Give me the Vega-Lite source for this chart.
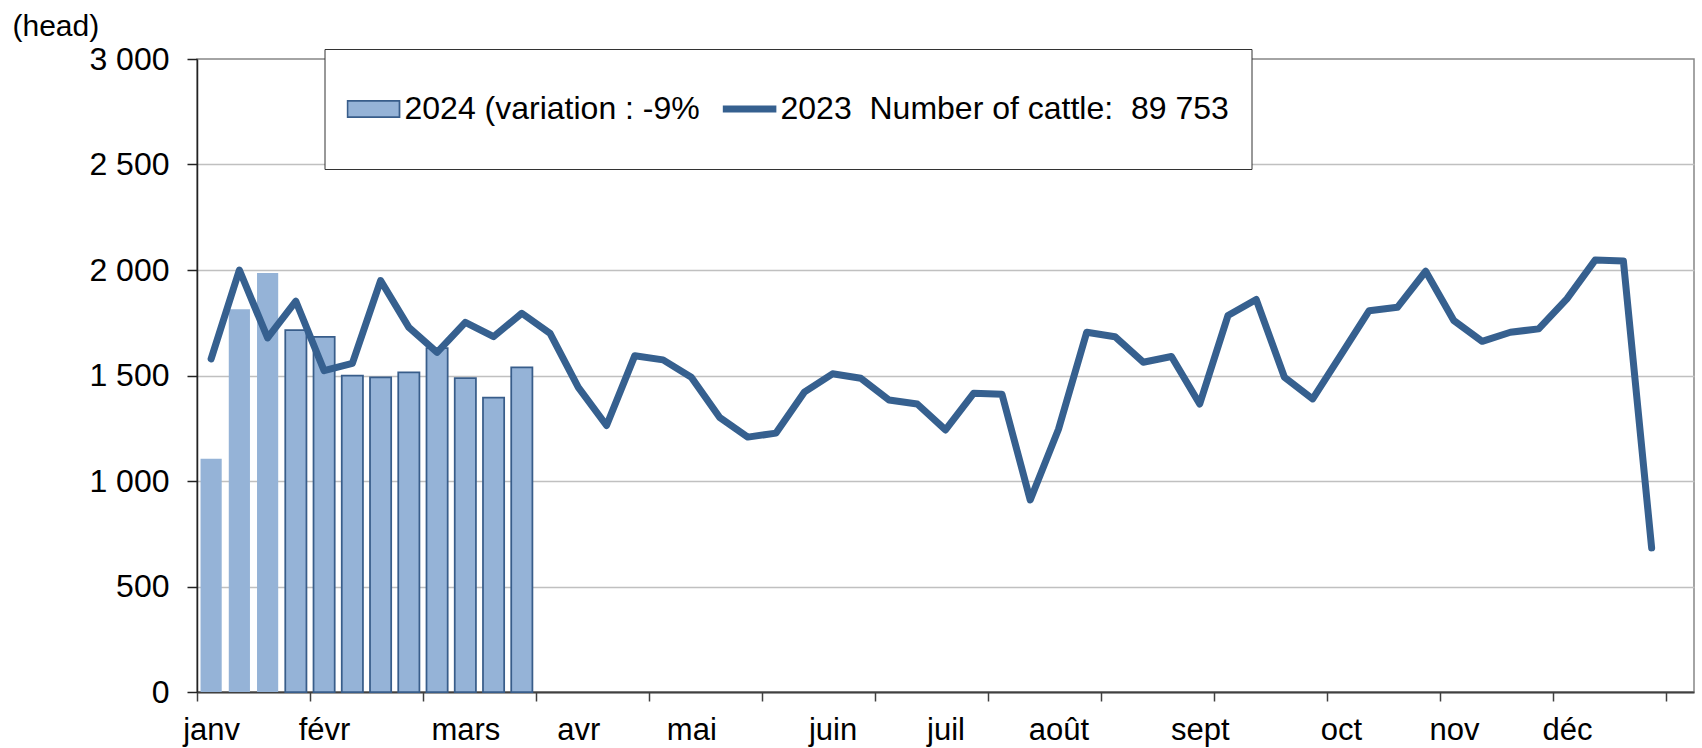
{
  "$schema": "https://vega.github.io/schema/vega-lite/v6.json",
  "width": 1497,
  "height": 633,
  "autosize": {"type": "none"},
  "padding": {"left": 197, "top": 59, "right": 8, "bottom": 56},
  "background": "white",
  "config": {
    "font": "Liberation Sans",
    "view": {"stroke": "#868686", "strokeWidth": 1.5},
    "axis": {"labelFont": "Liberation Sans", "labelFontSize": 30, "labelColor": "#000", "titleFont": "Liberation Sans", "titleColor": "#000"}
  },
  "datasets": {
    "y2024": [
      {"week": 1, "cattle": 1105}, {"week": 2, "cattle": 1814}, {"week": 3, "cattle": 1986},
      {"week": 4, "cattle": 1715}, {"week": 5, "cattle": 1683}, {"week": 6, "cattle": 1500},
      {"week": 7, "cattle": 1491}, {"week": 8, "cattle": 1515}, {"week": 9, "cattle": 1630},
      {"week": 10, "cattle": 1488}, {"week": 11, "cattle": 1395}, {"week": 12, "cattle": 1538}
    ],
    "y2023": [
      {"week": 1, "cattle": 1579}, {"week": 2, "cattle": 2000}, {"week": 3, "cattle": 1678}, {"week": 4, "cattle": 1852},
      {"week": 5, "cattle": 1523}, {"week": 6, "cattle": 1558}, {"week": 7, "cattle": 1950}, {"week": 8, "cattle": 1728},
      {"week": 9, "cattle": 1610}, {"week": 10, "cattle": 1752}, {"week": 11, "cattle": 1684}, {"week": 12, "cattle": 1795},
      {"week": 13, "cattle": 1700}, {"week": 14, "cattle": 1444}, {"week": 15, "cattle": 1263}, {"week": 16, "cattle": 1594},
      {"week": 17, "cattle": 1574}, {"week": 18, "cattle": 1492}, {"week": 19, "cattle": 1302}, {"week": 20, "cattle": 1208},
      {"week": 21, "cattle": 1227}, {"week": 22, "cattle": 1421}, {"week": 23, "cattle": 1508}, {"week": 24, "cattle": 1487},
      {"week": 25, "cattle": 1384}, {"week": 26, "cattle": 1365}, {"week": 27, "cattle": 1242}, {"week": 28, "cattle": 1416},
      {"week": 29, "cattle": 1411}, {"week": 30, "cattle": 910}, {"week": 31, "cattle": 1245}, {"week": 32, "cattle": 1705},
      {"week": 33, "cattle": 1684}, {"week": 34, "cattle": 1563}, {"week": 35, "cattle": 1590}, {"week": 36, "cattle": 1365},
      {"week": 37, "cattle": 1784}, {"week": 38, "cattle": 1860}, {"week": 39, "cattle": 1492}, {"week": 40, "cattle": 1389},
      {"week": 41, "cattle": 1598}, {"week": 42, "cattle": 1807}, {"week": 43, "cattle": 1823}, {"week": 44, "cattle": 1994},
      {"week": 45, "cattle": 1760}, {"week": 46, "cattle": 1662}, {"week": 47, "cattle": 1705}, {"week": 48, "cattle": 1721},
      {"week": 49, "cattle": 1863}, {"week": 50, "cattle": 2047}, {"week": 51, "cattle": 2043}, {"week": 52, "cattle": 683}
    ]
  },
  "layer": [
    {
      "data": {"name": "y2024"},
      "mark": {"type": "bar", "fill": "#95B3D7", "stroke": "#385D8A"},
      "encoding": {
        "x": {
          "field": "week",
          "type": "ordinal",
          "scale": {
            "domain": [1,2,3,4,5,6,7,8,9,10,11,12,13,14,15,16,17,18,19,20,21,22,23,24,25,26,27,28,29,30,31,32,33,34,35,36,37,38,39,40,41,42,43,44,45,46,47,48,49,50,51,52,53],
            "paddingInner": 0.25,
            "paddingOuter": 0.125
          },
          "axis": {
            "title": null,
            "bandPosition": 0.5,
            "labelAngle": 0,
            "labelOverlap": false,
            "labelBound": false,
            "labelFlush": false,
            "labelFontSize": 31,
            "labelExpr": "datum.value == 1 ? 'janv' : datum.value == 5 ? 'févr' : datum.value == 10 ? 'mars' : datum.value == 14 ? 'avr' : datum.value == 18 ? 'mai' : datum.value == 23 ? 'juin' : datum.value == 27 ? 'juil' : datum.value == 31 ? 'août' : datum.value == 36 ? 'sept' : datum.value == 41 ? 'oct' : datum.value == 45 ? 'nov' : datum.value == 49 ? 'déc' : ''",
            "tickOffset": -14.12,
            "labelOffset": 14.12,
            "tickSize": 9,
            "tickWidth": 1.5,
            "tickColor": "#404040",
            "tickOpacity": {"condition": {"test": "(datum.value - 1) % 4 == 0", "value": 1}, "value": 0},
            "labelPadding": 14,
            "domainColor": "#404040",
            "domainWidth": 2
          }
        },
        "y": {
          "field": "cattle",
          "type": "quantitative",
          "scale": {"domain": [0, 3000], "nice": false},
          "axis": {
            "values": [0, 500, 1000, 1500, 2000, 2500, 3000],
            "labelExpr": "replace(format(datum.value, ','), ',', ' ')",
            "labelFontSize": 32,
            "title": "(head)",
            "titleAngle": 0,
            "titleAlign": "left",
            "titleBaseline": "alphabetic",
            "titleX": -185,
            "titleY": -24,
            "titleFontSize": 30,
            "titleFontWeight": "normal",
            "tickSize": 10,
            "tickWidth": 1.5,
            "tickColor": "#222",
            "labelPadding": 18,
            "domainColor": "#222",
            "domainWidth": 1.5,
            "grid": true,
            "gridColor": "#C0C0C0",
            "gridWidth": 1.5,
            "gridOpacity": {"condition": {"test": "datum.value == 3000", "value": 0}, "value": 1}
          }
        },
        "strokeWidth": {"condition": {"test": "datum.week <= 3", "value": 0}, "value": 1.75}
      }
    },
    {
      "data": {"name": "y2023"},
      "mark": {"type": "line", "color": "#36608F", "strokeWidth": 7, "strokeJoin": "round", "strokeCap": "round"},
      "encoding": {
        "x": {"field": "week", "type": "ordinal"},
        "y": {"field": "cattle", "type": "quantitative"}
      }
    },
    {
      "data": {"values": []},
      "mark": {"type": "point", "filled": true},
      "encoding": {
        "color": {
          "field": "series",
          "type": "nominal",
          "scale": {"domain": ["2024 (variation : -9%", "2023\u00a0 Number of cattle:\u00a0 89 753"], "range": ["#95B3D7", "#36608F"]},
          "legend": {"title": null, "orient": "none", "legendX": 127.5, "legendY": -10, "direction": "horizontal", "labelFont": "Liberation Sans", "labelFontSize": 32, "labelColor": "#000", "labelLimit": 2000, "symbolSize": 2704, "symbolStrokeWidth": 1.75, "symbolOpacity": 1, "padding": 22, "columnPadding": 22, "labelOffset": 4, "clipHeight": 76, "fillColor": "white", "strokeColor": "#333"}
        },
        "stroke": {
          "field": "series",
          "type": "nominal",
          "scale": {"domain": ["2024 (variation : -9%", "2023\u00a0 Number of cattle:\u00a0 89 753"], "range": ["#385D8A", "#36608F"]},
          "legend": {"title": null, "orient": "none", "legendX": 127.5, "legendY": -10, "direction": "horizontal", "labelFont": "Liberation Sans", "labelFontSize": 32, "labelColor": "#000", "labelLimit": 2000, "symbolSize": 2704, "symbolStrokeWidth": 1.75, "symbolOpacity": 1, "padding": 22, "columnPadding": 22, "labelOffset": 4, "clipHeight": 76, "fillColor": "white", "strokeColor": "#333"}
        },
        "shape": {
          "field": "series",
          "type": "nominal",
          "scale": {"domain": ["2024 (variation : -9%", "2023\u00a0 Number of cattle:\u00a0 89 753"], "range": ["M-1,-0.31H1V0.31H-1Z", "M-1,-0.1H1V0.1H-1Z"]},
          "legend": {"title": null, "orient": "none", "legendX": 127.5, "legendY": -10, "direction": "horizontal", "labelFont": "Liberation Sans", "labelFontSize": 32, "labelColor": "#000", "labelLimit": 2000, "symbolSize": 2704, "symbolStrokeWidth": 1.75, "symbolOpacity": 1, "padding": 22, "columnPadding": 22, "labelOffset": 4, "clipHeight": 76, "fillColor": "white", "strokeColor": "#333"}
        }
      }
    }
  ]
}
